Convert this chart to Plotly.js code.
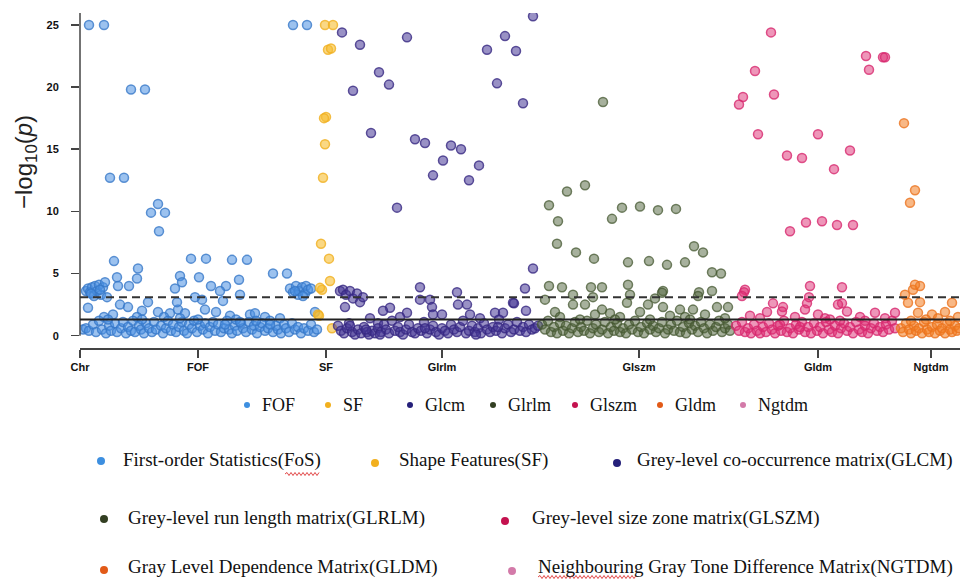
<!DOCTYPE html>
<html>
<head>
<meta charset="utf-8">
<script src="https://cdn.plot.ly/plotly-3.0.1.min.js"></script>
<style>html,body{margin:0;padding:0;background:#fff;}#chart{width:970px;height:579px;}</style>
</head>
<body>
<div id="chart"></div>
<script>
// ---------- DATA ----------
const groupNames = ['FOF','SF','Glcm','Glrlm','Glszm','Gldm','Ngtdm'];
const groupLabels = ['First-order Statistics(FoS)','Shape Features(SF)','Grey-level co-occurrence matrix(GLCM)',
  'Grey-level run length matrix(GLRLM)','Grey-level size zone matrix(GLSZM)',
  'Gray Level Dependence Matrix(GLDM)','Neighbouring Gray Tone Difference Matrix(NGTDM)'];
const xTickVals = [0,118,246,362,559,738,851];
const xTickText = ['Chr','FOF','SF','Glrlm','Glszm','Gldm','Ngtdm'];
const yTickVals = [0,5,10,15,20,25];
const thresholdDashed = 3.1;
const thresholdSolid = 1.3;

// [position, -log10(p)]
const fofPoints = [
 [9,25],[24,25],[51,19.8],[65,19.8],[30,12.7],[44,12.7],[71,9.9],[78,10.6],[85,9.9],[79,8.4],
 [34,6.0],[37,4.7],[38,4.0],[49,4.0],[58,5.4],[57,4.6],
 [111,6.2],[126,6.2],[119,4.7],[131,4.0],[100,4.8],[102,4.3],[95,3.8],[152,6.1],[167,6.1],[159,4.5],[146,4.0],[140,3.6],
 [193,5.0],[207,5.0],[160,3.3],[213,25],[227,25],
 [6,3.6],[8,3.8],[10,3.5],[12,3.9],[14,3.2],[15,4.0],[17,3.6],[19,4.1],[21,3.3],[23,3.9],[25,4.3],[27,3.1],[11,3.4],[20,3.7],
 [210,3.8],[213,3.5],[216,4.0],[218,3.3],[219,3.6],[222,3.9],[225,3.4],[226,4.0],[228,3.7],[231,3.8],[215,3.6],[223,3.2],
 [8,2.25],[40,2.5],[48,2.3],[33,1.7],[68,2.7],[78,1.9],[90,1.8],[98,2.1],[105,1.8],[125,2.1],[136,1.9],[62,2.0],[122,2.9],
 [150,1.6],[170,1.7],[185,1.5],[200,1.4],[235,1.9],[115,3.1],[97,2.7],[143,2.8],[175,1.8],[57,1.5],[84,1.5],[24,1.5],
 [3,0.5],[6,0.6],[9,0.4],[13,0.9],[16,0.3],[19,1.2],[22,0.5],[26,0.2],[29,0.8],[31,0.4],[35,1.0],[37,0.3],[41,0.6],[43,1.1],
 [46,0.2],[48,0.7],[51,0.4],[53,1.2],[55,0.3],[59,0.8],[61,0.5],[64,0.2],[66,1.0],[69,0.6],[72,0.3],[74,1.1],[76,0.5],[81,0.8],
 [83,0.2],[86,0.6],[88,1.2],[91,0.4],[93,0.9],[96,0.3],[99,0.7],[102,1.1],[104,0.4],[107,0.2],[109,0.9],[112,0.6],[114,1.2],
 [117,0.3],[120,0.8],[123,0.5],[125,1.0],[128,0.2],[130,0.7],[133,1.1],[135,0.4],[138,0.9],[141,0.3],[144,0.6],[147,1.2],
 [149,0.5],[152,0.2],[155,0.8],[157,0.4],[161,1.0],[163,0.6],[166,0.3],[169,1.1],[172,0.5],[174,0.8],[177,0.2],[180,0.7],
 [182,1.0],[185,0.4],[188,0.6],[190,1.2],[193,0.3],[196,0.8],[198,0.5],[201,0.2],[204,0.9],[206,0.6],[209,0.3],[212,1.0],
 [215,0.5],[218,0.7],[221,0.2],[224,0.6],[228,0.4],[231,0.9],[234,0.3],[237,0.5],[118,1.3],[156,1.3],[176,1.2],[62,1.3],
 [28,1.3],[100,1.4],[160,1.1],[190,0.9],[145,0.9]
];
const sfPoints = [
 [245,25],[253,25],[248,23],[251,23.1],[246,17.6],[244,17.5],[245,15.4],[243,12.7],[241,7.4],[249,6.2],[250,4.4],
 [242,3.7],[238,1.7],[252,0.6],[240,3.85],[239,1.6]
];
const glcmPoints = [
 [262,24.4],[280,23.4],[299,21.2],[309,20.2],[273,19.7],[327,24.0],[291,16.3],[317,10.3],[335,15.8],[345,15.5],[371,15.3],
 [381,15.0],[363,14.1],[353,12.9],[399,13.7],[389,12.5],[407,23.0],[425,24.1],[436,22.9],[417,20.3],[443,18.7],[453,25.7],
 [453,5.4],[445,3.8],
 [260,3.6],[263,3.7],[266,3.3],[270,3.6],[273,3.0],[277,3.4],[280,2.7],[283,3.1],[340,3.9],[377,3.5],[340,2.9],[350,2.9],
 [352,2.3],[310,2.25],[303,2.0],[378,2.5],[387,2.5],[433,2.65],[327,1.85],[353,1.7],[362,1.7],[390,1.7],[415,1.85],[423,1.85],
 [446,2.0],[434,2.6],[290,1.4],[320,1.5],[400,1.4],[265,2.3],[298,1.0],
 [258,0.8],[261,0.4],[264,0.2],[267,0.6],[269,1.0],[272,0.3],[275,0.1],[278,0.5],[281,0.2],[284,0.7],[287,0.3],[289,0.1],
 [292,0.4],[295,0.2],[298,0.6],[301,0.3],[304,0.9],[306,0.5],[309,0.2],[312,1.2],[315,0.4],[318,0.7],[320,0.3],[323,0.1],
 [326,0.5],[329,0.9],[332,0.3],[335,0.2],[338,0.6],[341,0.4],[344,1.1],[347,0.2],[350,0.5],[353,0.8],[356,0.3],[359,0.1],
 [362,0.6],[365,0.4],[368,0.2],[371,0.9],[374,0.5],[377,0.3],[380,0.7],[383,1.2],[386,0.2],[389,0.4],[392,0.8],[395,0.3],
 [398,0.6],[401,0.2],[404,1.0],[407,0.5],[410,0.3],[413,0.7],[416,0.4],[419,1.3],[422,0.2],[425,0.6],[428,0.9],[431,0.3],
 [434,0.5],[437,1.1],[440,0.4],[443,0.7],[446,0.3],[449,0.9],[452,0.5],[455,0.6],[458,0.8],[270,0.8],[300,0.1],[345,0.6],
 [396,0.1],[418,0.7],[286,0.5]
];
const glrlmPoints = [
 [523,18.8],[469,10.5],[487,11.6],[505,12.1],[478,9.2],[477,7.4],[496,6.7],[514,6.2],[542,10.3],[532,9.4],[548,5.9],
 [560,10.4],[578,10.1],[596,10.2],[569,6.0],[587,5.7],[605,5.9],[614,7.2],[623,6.7],[632,5.1],[641,5.0],
 [469,4.0],[482,3.9],[511,3.9],[522,3.9],[548,4.1],[583,3.6],[619,3.5],[632,3.6],[493,3.3],[513,3.1],[550,3.3],[582,3.45],
 [493,2.5],[505,2.5],[547,2.65],[568,2.5],[522,2.1],[583,2.3],[600,2.1],[613,2.1],[637,2.3],[648,2.3],[465,2.9],[475,1.9],
 [530,1.8],[560,1.9],[590,1.6],[625,1.7],[480,1.5],[540,1.5],[515,1.7],[605,1.5],[618,3.2],[575,3.0],
 [462,0.9],[465,0.5],[468,1.2],[471,0.3],[474,0.7],[477,0.2],[480,1.0],[483,0.4],[486,0.8],[489,0.2],[492,0.6],[495,1.1],
 [498,0.3],[501,0.7],[504,0.4],[507,1.2],[510,0.2],[513,0.6],[516,0.9],[519,0.3],[522,0.5],[525,1.1],[528,0.2],[531,0.7],
 [534,0.4],[537,1.0],[540,0.3],[543,0.6],[546,0.2],[549,0.9],[552,0.5],[555,1.2],[558,0.3],[561,0.7],[564,0.2],[567,1.0],
 [570,0.5],[573,0.8],[576,0.3],[579,0.6],[582,1.1],[585,0.2],[588,0.5],[591,0.9],[594,0.4],[597,1.2],[600,0.3],[603,0.7],
 [606,0.2],[609,1.0],[612,0.5],[615,0.8],[618,0.3],[621,1.1],[624,0.6],[627,0.2],[630,0.9],[633,0.4],[636,0.7],[639,1.2],
 [642,0.3],[645,0.6],[648,0.9],[650,0.4],[500,1.3],[535,1.3],[570,1.3],[610,1.3],[645,1.4]
];
const glszmPoints = [
 [691,24.4],[675,21.3],[694,19.4],[663,19.2],[659,18.6],[678,16.2],[738,16.2],[707,14.5],[722,14.3],[754,13.4],[770,14.9],
 [786,22.5],[789,21.4],[803,22.4],[805,22.4],[710,8.4],[726,9.1],[742,9.2],[757,8.9],[773,8.9],
 [730,4.0],[762,3.9],[665,3.7],[664,3.5],[662,3.2],[729,3.1],[727,2.6],[693,2.6],[703,2.3],[687,1.9],[702,1.95],[762,2.6],
 [767,1.95],[815,1.85],[758,2.5],[738,1.7],[795,1.85],[670,1.6],[680,1.4],[715,1.5],[745,1.4],[780,1.5],[805,1.4],[725,2.1],
 [750,1.3],[785,1.2],
 [656,0.8],[659,0.4],[662,1.1],[665,0.3],[668,0.6],[671,0.2],[674,0.9],[677,0.4],[680,0.2],[683,0.7],[686,0.3],[689,1.0],
 [692,0.5],[695,0.2],[698,0.8],[701,0.4],[704,1.2],[707,0.3],[710,0.6],[713,0.2],[716,0.9],[719,0.5],[722,1.1],[725,0.3],
 [728,0.7],[731,0.2],[734,1.0],[737,0.4],[740,0.7],[743,0.2],[746,1.1],[749,0.5],[752,0.3],[755,0.8],[758,0.2],[761,0.6],
 [764,1.0],[767,0.4],[770,0.7],[773,0.2],[776,1.1],[779,0.5],[782,0.3],[785,0.8],[788,0.2],[791,0.6],[794,1.0],[797,0.4],
 [800,0.7],[803,0.3],[806,0.9],[809,0.5],[812,1.2],[815,0.6],[700,0.9],[760,1.2],[720,0.7]
];
const gldmPoints = [
 [824,17.1],[835,11.7],[830,10.7],[833,3.7],[840,4.0],[835,4.1],[828,2.65],[840,2.7],[872,2.65],[838,1.85],[852,1.7],
 [865,1.9],[825,3.3],
 [821,0.6],[823,0.3],[826,1.0],[829,0.5],[831,0.2],[834,0.8],[836,0.4],[839,0.6],[842,0.2],[844,1.1],[847,0.5],[849,0.3],
 [852,0.7],[855,0.2],[857,0.9],[860,0.4],[862,0.6],[865,0.2],[867,1.0],[870,0.5],[872,0.3],[875,0.8],[877,0.4],[879,0.6],
 [846,1.3],[858,1.4],[870,1.2],[831,1.2],[878,1.5]
];
const ngtdmPoints = [];

// ---------- STYLE ----------
const markerFill = ['rgba(74,144,226,0.55)','rgba(247,190,50,0.6)','rgba(70,55,150,0.55)','rgba(80,100,60,0.5)',
  'rgba(222,45,115,0.5)','rgba(242,125,35,0.55)','rgba(210,120,170,0.5)'];
const markerLine = ['rgba(55,120,200,0.8)','rgba(240,175,30,0.8)','rgba(55,40,130,0.8)','rgba(70,88,50,0.75)',
  'rgba(215,40,110,0.8)','rgba(235,115,30,0.8)','rgba(200,100,160,0.8)'];
const legendColors = ['#3d8fe0','#f2b01e','#25207a','#333f22','#c4124f','#e25a17','#d37aa9'];

const allPoints = [fofPoints,sfPoints,glcmPoints,glrlmPoints,glszmPoints,gldmPoints,ngtdmPoints];

const traces = allPoints.map((pts,i)=>({
  type:'scatter', mode:'markers', name:groupNames[i],
  x:pts.map(p=>p[0]), y:pts.map(p=>p[1]),
  marker:{size:9, color:markerFill[i], line:{color:markerLine[i], width:1.5}},
  showlegend:false, hoverinfo:'skip'
}));

// pixel helpers for layout placement
const L=80, T=13, PW=880, PH=335;
const px = x => (x-L)/PW;
const py = y => (T+PH-y)/PH;

const shapes = [];
const annotations = [];

// axis line for y (from 0 to top)
shapes.push({type:'line', xref:'paper', yref:'y', x0:0, x1:0, y0:0, y1:25.96, line:{color:'#444', width:1.5}});
// threshold lines
shapes.push({type:'line', xref:'paper', yref:'y', x0:0, x1:1, y0:thresholdDashed, y1:thresholdDashed, line:{color:'#333', width:2, dash:'8px,5px'}});
shapes.push({type:'line', xref:'paper', yref:'y', x0:0, x1:1, y0:thresholdSolid, y1:thresholdSolid, line:{color:'#222', width:2}});

function dot(cx, cy, r, color){
  shapes.push({type:'circle', xref:'paper', yref:'paper', xsizemode:'pixel', ysizemode:'pixel',
    xanchor:px(cx), yanchor:py(cy), x0:-r, x1:r, y0:-r, y1:r, fillcolor:color, line:{width:0}});
}
function label(tx, ty, text, size){
  annotations.push({xref:'paper', yref:'paper', x:px(tx), y:py(ty), xanchor:'left', yanchor:'middle',
    text:text, showarrow:false, font:{family:'Liberation Serif, Times New Roman, serif', size:size, color:'#111'}});
}
// red spell-check squiggle under a word
function squiggle(x0, x1, y){
  let d = 'M' + px(x0) + ',' + py(y);
  let up = true;
  for (let x = x0 + 2; x <= x1; x += 2) {
    d += ' L' + px(x) + ',' + py(y + (up ? -1.5 : 1.5));
    up = !up;
  }
  shapes.push({type:'path', xref:'paper', yref:'paper', path:d, line:{color:'rgba(220,40,40,0.85)', width:1}});
}

// first legend row
const legendDotX = [247,328,410,493,575,660,743];
groupNames.forEach((n,i)=>{
  dot(legendDotX[i], 405, 3, legendColors[i]);
  label(legendDotX[i]+13, 405, n, 18);
});

// descriptive rows
const descDot = [[101,461],[375,463],[617,463],[104,519],[505,521],[104,570],[512,571]];
const descText = [[121,460],[397,460],[635,460],[126,518],[530,518],[126,567],[536,567]];
groupLabels.forEach((t,i)=>{
  dot(descDot[i][0], descDot[i][1], 4, legendColors[i]);
  label(descText[i][0], descText[i][1], t, 19);
});
squiggle(285, 320, 474);
squiggle(538, 637, 577);

// y axis title
annotations.push({xref:'paper', yref:'paper', x:px(25), y:py(162), xanchor:'center', yanchor:'middle', textangle:-90,
  text:'\u2212log<sub>10</sub>(<i>p</i>)', showarrow:false, font:{family:'Liberation Sans, Arial, sans-serif', size:24, color:'#222'}});

const layout = {
  width:970, height:579,
  margin:{l:L, r:970-L-PW, t:T, b:579-T-PH, pad:0},
  paper_bgcolor:'#fff', plot_bgcolor:'#fff',
  xaxis:{range:[0,880], tickvals:xTickVals, ticktext:xTickText, ticks:'outside', ticklen:8, tickwidth:1.5, tickcolor:'#444',
    showline:true, linecolor:'#444', linewidth:1.5, showgrid:false, zeroline:false,
    tickfont:{family:'Liberation Sans, Arial, sans-serif', size:11, color:'#111', weight:'bold'}},
  yaxis:{range:[-0.99,25.96], tickvals:yTickVals, ticks:'outside', ticklen:8, tickwidth:1.5, tickcolor:'#444',
    showline:false, showgrid:false, zeroline:false, ticklabelstandoff:10,
    tickfont:{family:'Liberation Sans, Arial, sans-serif', size:11, color:'#111', weight:'bold'}},
  shapes:shapes, annotations:annotations, showlegend:false
};

Plotly.newPlot('chart', traces, layout, {displayModeBar:false, staticPlot:true});
</script>
</body>
</html>
